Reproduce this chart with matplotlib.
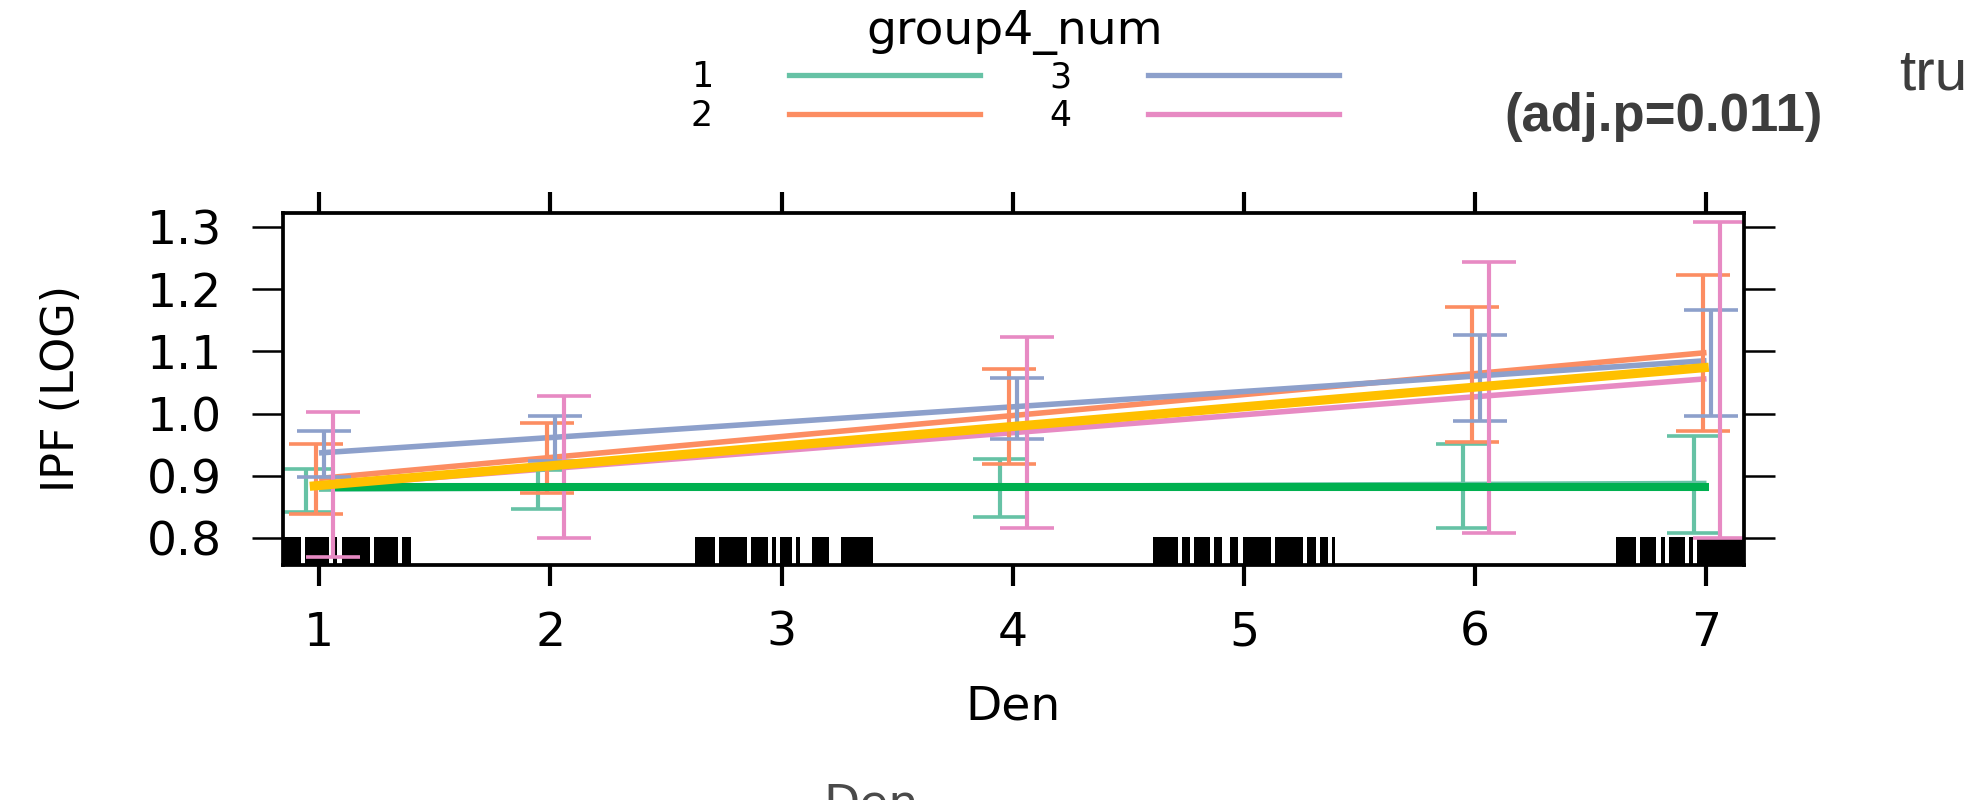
import matplotlib
matplotlib.use('Agg')
import matplotlib.pyplot as plt
from matplotlib.lines import Line2D

plt.rcParams['font.family'] = ['DejaVu Sans']

# x positions of the effect estimates
den_x = [1, 2, 4, 6, 7]

# confidence bands per group (lower / upper)
g1_lo = [0.843, 0.8465, 0.834, 0.817, 0.808]
g1_hi = [0.911, 0.910, 0.928, 0.951, 0.964]
g2_lo = [0.8385, 0.873, 0.920, 0.955, 0.972]
g2_hi = [0.951, 0.9845, 1.071, 1.171, 1.222]
g3_lo = [0.899, 0.9245, 0.959, 0.989, 0.997]
g3_hi = [0.972, 0.997, 1.058, 1.127, 1.166]
g4_lo = [0.7695, 0.800, 0.8165, 0.808, 0.800]
g4_hi = [1.002, 1.028, 1.1225, 1.244, 1.308]

# fitted lines per group (at Den = 1 and Den = 7)
fit_x = [1, 7]
g1_fit = [0.879, 0.888]
g2_fit = [0.896, 1.098]
g3_fit = [0.937, 1.085]
g4_fit = [0.883, 1.056]

# overlay lines
green_x = [1.07, 7.01]
green_y = [0.8825, 0.8825]
yellow_x = [0.96, 7.01]
yellow_y = [0.8835, 1.0745]

# rug blocks along the bottom (start, end in Den units)
rug_start = [0.83, 0.9395, 1.0605, 1.0995, 1.2378, 1.3589,
             2.6259, 2.7297, 2.8681, 2.9589, 2.9935, 3.0627, 3.1319, 3.2573,
             4.6065, 4.7319, 4.7838, 4.8703, 4.9395, 4.9957, 5.1341, 5.2724, 5.3286, 5.3805,
             6.6086, 6.7124, 6.8032, 6.8378, 6.9243, 6.9589]
rug_end = [0.9209, 1.0419, 1.0791, 1.2218, 1.3416, 1.3978,
           2.7124, 2.8495, 2.9416, 2.9762, 3.0454, 3.0800, 3.2054, 3.3957,
           4.7146, 4.7665, 4.8530, 4.9049, 4.9741, 5.1168, 5.2551, 5.3114, 5.3619, 5.3951,
           6.6951, 6.7816, 6.8205, 6.9070, 6.9416, 7.20]

groups = ['1', '2', '3', '4']
colors = ['#66c2a5', '#fc8d62', '#8da0cb', '#e78ac3']
offsets = [-0.055, -0.015, 0.02, 0.06]
lows = [g1_lo, g2_lo, g3_lo, g4_lo]
highs = [g1_hi, g2_hi, g3_hi, g4_hi]
fits = [g1_fit, g2_fit, g3_fit, g4_fit]

W, H = 1982, 800
fig = plt.figure(figsize=(W / 100, H / 100), dpi=100)
ax = fig.add_axes([283 / W, 235 / H, 1461 / W, 352 / H])

for s, e in zip(rug_start, rug_end):
    ax.axvspan(s, e, 0, 0.08, color='black', lw=0, zorder=1)

for i in range(4):
    ax.plot(fit_x, fits[i], color=colors[i], lw=4.0, solid_capstyle='butt', zorder=2)

for i in range(4):
    xs = [x + offsets[i] for x in den_x]
    mid = [(l + h) / 2 for l, h in zip(lows[i], highs[i])]
    err = [(h - l) / 2 for l, h in zip(lows[i], highs[i])]
    ax.errorbar(xs, mid, yerr=err, fmt='none', ecolor=colors[i],
                elinewidth=3.0, capsize=19.5, capthick=2.6, zorder=3)

ax.plot(green_x, green_y, color='#00B050', lw=5.8, solid_capstyle='butt', zorder=4)
ax.plot(yellow_x, yellow_y, color='#FFC000', lw=6.6, solid_capstyle='butt', zorder=5)

ax.set_xlim(0.8443, 7.1622)
ax.set_ylim(0.7572, 1.322)
ax.set_xticks([1, 2, 3, 4, 5, 6, 7])
ax.set_yticks([0.8, 0.9, 1.0, 1.1, 1.2, 1.3])
ax.set_yticklabels(['0.8', '0.9', '1.0', '1.1', '1.2', '1.3'])
ax.tick_params(axis='both', direction='out', top=True, right=True,
               labeltop=False, labelright=False, labelsize=34, colors='black')
ax.tick_params(axis='x', length=15, width=3.0, pad=18)
ax.tick_params(axis='y', length=22, width=1.8, pad=22)
for sp in ax.spines.values():
    sp.set_linewidth(2.7)
    sp.set_zorder(6)

ax.set_xlabel('Den', fontsize=34)
ax.xaxis.set_label_coords(0.5, (565 - 684) / 352)
ax.set_ylabel('IPF (LOG)', fontsize=32)
ax.yaxis.set_label_coords((83 - 283) / 1461, 0.5)

handles = [Line2D([], [], color=c, lw=3.8) for c in colors]
fig.legend(handles, groups, ncol=2, loc='upper center',
           bbox_to_anchor=(1015 / W, 1 - 9 / H), frameon=False,
           markerfirst=False, fontsize=25, title='group4_num', title_fontsize=34,
           handlelength=5.5, handletextpad=2.2, columnspacing=2.0,
           labelspacing=0.15, borderpad=0, borderaxespad=0)

fig.text(1664 / W, 1 - 131 / H, '(adj.p=0.011)', ha='center', va='baseline',
         fontsize=38, fontweight='bold', color='#3d3d3d', family='Liberation Sans')
fig.text(1899 / W, 1 - 90 / H, 'tru', ha='left', va='baseline',
         fontsize=42, color='#3d3d3d', family='Liberation Sans')
fig.text(871 / W, 1 - 782 / H, 'Den', ha='center', va='top',
         fontsize=34, color='#2a2a2a', alpha=0.85)

fig.savefig('out.png', dpi=100)
